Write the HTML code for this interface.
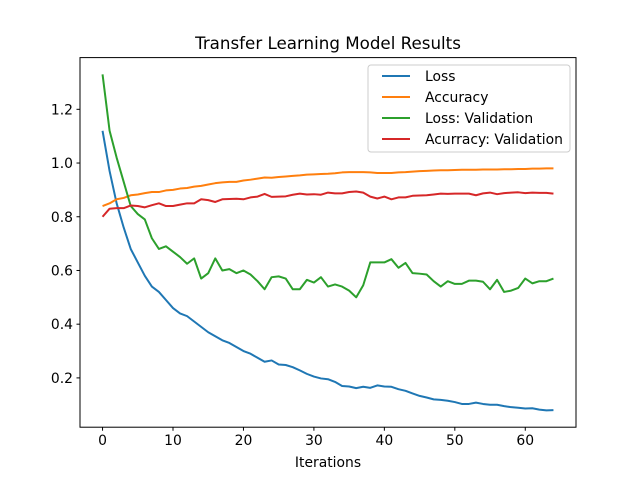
<!DOCTYPE html>
<html><head><meta charset="utf-8"><style>
body{margin:0;background:#fff;}
svg{display:block;font-family:"DejaVu Sans","Liberation Sans",sans-serif;}
</style></head><body>
<svg id="chart" width="640" height="480">
<rect width="640" height="480" fill="#fff"/>
<text x="328" y="49" text-anchor="middle" font-size="16.7">Transfer Learning Model Results</text>
<g id="plot"></g>
<rect x="80" y="57.6" width="496" height="369.6" fill="none" stroke="#000" stroke-width="1"/>
<g id="xt"></g><g id="yt"></g>
<text x="328" y="467" text-anchor="middle" font-size="13.9">Iterations</text>
<g id="legend"></g>
</svg>
<script>
const lossVals=[1.12,0.97,0.85,0.76,0.68,0.63,0.58,0.54,0.52,0.49,0.46,0.44,0.43,0.41,0.39,0.37,0.355,0.34,0.33,0.315,0.30,0.29,0.275,0.26,0.265,0.25,0.248,0.24,0.228,0.215,0.205,0.198,0.195,0.185,0.17,0.168,0.162,0.167,0.163,0.172,0.168,0.167,0.158,0.152,0.142,0.133,0.127,0.12,0.118,0.115,0.11,0.103,0.103,0.108,0.103,0.1,0.1,0.095,0.091,0.089,0.086,0.087,0.082,0.079,0.08];
const accVals=[0.84,0.85,0.865,0.87,0.88,0.883,0.888,0.892,0.892,0.898,0.9,0.905,0.907,0.912,0.915,0.92,0.925,0.928,0.93,0.93,0.935,0.938,0.942,0.946,0.945,0.948,0.95,0.952,0.954,0.957,0.958,0.959,0.96,0.962,0.965,0.966,0.966,0.966,0.965,0.963,0.963,0.963,0.965,0.966,0.968,0.97,0.971,0.972,0.973,0.973,0.974,0.975,0.975,0.975,0.976,0.976,0.976,0.977,0.977,0.978,0.978,0.979,0.979,0.98,0.98];
const lossValVals=[1.33,1.12,1.02,0.93,0.84,0.81,0.79,0.72,0.68,0.69,0.67,0.65,0.625,0.645,0.57,0.59,0.645,0.6,0.605,0.59,0.6,0.585,0.56,0.53,0.575,0.578,0.57,0.53,0.53,0.565,0.555,0.575,0.54,0.548,0.54,0.525,0.50,0.545,0.63,0.63,0.63,0.642,0.61,0.628,0.59,0.588,0.585,0.56,0.54,0.56,0.55,0.55,0.562,0.562,0.558,0.53,0.565,0.52,0.525,0.535,0.57,0.552,0.56,0.56,0.57];
const accValVals=[0.80,0.83,0.832,0.832,0.842,0.84,0.835,0.843,0.85,0.84,0.84,0.845,0.85,0.85,0.865,0.862,0.855,0.865,0.866,0.867,0.865,0.872,0.875,0.885,0.874,0.875,0.876,0.882,0.886,0.883,0.884,0.882,0.89,0.887,0.887,0.892,0.894,0.89,0.875,0.868,0.875,0.865,0.872,0.872,0.878,0.879,0.88,0.883,0.886,0.885,0.886,0.886,0.886,0.88,0.887,0.89,0.884,0.888,0.89,0.891,0.888,0.89,0.889,0.889,0.886];
const seriesNames=["Loss","Accuracy","Loss: Validation","Acurracy: Validation"];
const xTicks=[0,10,20,30,40,50,60];
const yTicks=[0.2,0.4,0.6,0.8,1.0,1.2];
const yTickLabels=["0.2","0.4","0.6","0.8","1.0","1.2"];

const NS="http://www.w3.org/2000/svg";
const L=80,R=576,T=57.6,B=427.2;
const allSeries=[lossVals,accVals,lossValVals,accValVals];
const n=Math.max(...allSeries.map(s=>s.length));
const xmin=-(n-1)*0.05,xmax=(n-1)*1.05;
const allV=allSeries.flat();
const vmin=Math.min(...allV),vmax=Math.max(...allV),pad=(vmax-vmin)*0.05;
const ymin=vmin-pad,ymax=vmax+pad;
const xs=v=>L+(v-xmin)/(xmax-xmin)*(R-L);
const ys=v=>B-(v-ymin)/(ymax-ymin)*(B-T);
const colors=["#1f77b4","#ff7f0e","#2ca02c","#d62728"];
function mk(t,a,p){const e=document.createElementNS(NS,t);for(const k in a)e.setAttribute(k,a[k]);p.appendChild(e);return e;}
const plot=document.getElementById('plot');
allSeries.forEach((s,i)=>{
  const p=mk('polyline',{points:s.map((v,j)=>xs(j)+','+ys(v)).join(' '),fill:'none',stroke:colors[i],'stroke-width':2,'stroke-linejoin':'round'},plot);
  
  
});
const xt=document.getElementById('xt');
xTicks.forEach(v=>{
  const g=mk('g',{},xt);
  
  
  mk('line',{x1:xs(v),x2:xs(v),y1:B,y2:B+3.5,stroke:'#000'},g);
  const t=mk('text',{x:xs(v),y:B+18,'text-anchor':'middle','font-size':13.9},g);t.textContent=v;
});
const yt=document.getElementById('yt');
yTicks.forEach((v,i)=>{
  const g=mk('g',{},yt);
  
  
  mk('line',{x1:L-3.5,x2:L,y1:ys(v),y2:ys(v),stroke:'#000'},g);
  const t=mk('text',{x:L-7,y:ys(v)+5,'text-anchor':'end','font-size':13.9},g);t.textContent=yTickLabels[i];
});
const lg=document.getElementById('legend');
mk('rect',{x:368,y:65,width:202,height:87,rx:3,fill:'#fff','fill-opacity':0.8,stroke:'#ccc'},lg);
seriesNames.forEach((nm,i)=>{
  const g=mk('g',{},lg);
  
  
  const y=76+i*21;
  mk('line',{x1:382,x2:410,y1:y,y2:y,stroke:colors[i],'stroke-width':2},g);
  const t=mk('text',{x:425,y:y+5,'font-size':13.9},g);t.textContent=nm;
});
</script>
</body></html>
